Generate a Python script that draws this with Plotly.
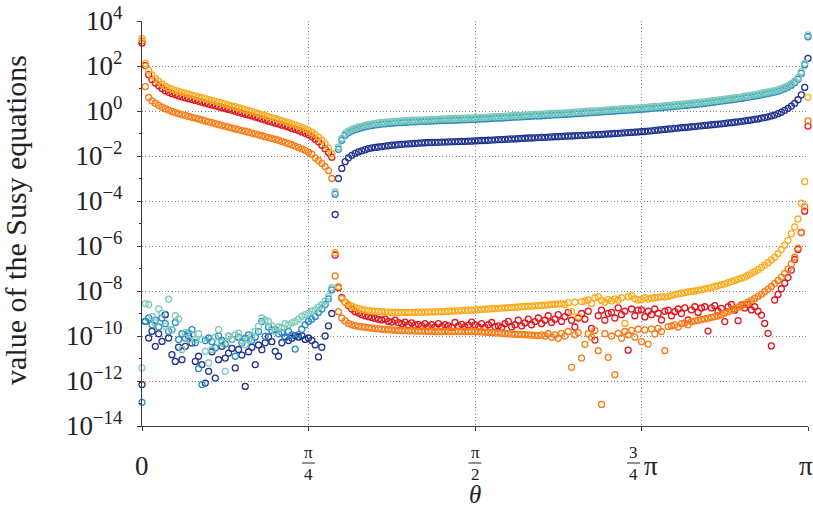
import numpy as np
import plotly.graph_objects as go

# sampling grid: 201 angles from 0 to pi
theta = np.linspace(0, np.pi, 201)

# log10 of the values of the Susy equations (index 0..200)
log10_dark_blue = [
    -12.16, -9.35, -10.09, -9.79, -10.46, -9.9, -10.24, -9.05, -10.09, -10.83,
    -11.13, -10.5, -11.05, -10.46, -10.0, -10.31, -11.13, -10.9, -11.27, -12.09,
    -11.57, -10.7, -11.87, -11.05, -10.46, -10.98, -10.76, -10.55, -11.42, -10.6,
    -10.85, -12.24, -10.7, -10.5, -11.27, -10.4, -10.61, -10.3, -10.04, -10.25,
    -10.68, -10.9, -10.3, -10.04, -10.2, -10.1, -9.99, -10.05, -9.99, -10.15,
    -10.09, -10.2, -10.39, -10.93, -10.5, -10.0, -9.55, -9.0, -4.6, -3.0,
    -2.55, -2.25, -2.08, -1.97, -1.88, -1.82, -1.77, -1.72, -1.67, -1.64,
    -1.62, -1.6, -1.58, -1.56, -1.54, -1.52, -1.51, -1.49, -1.48, -1.47,
    -1.46, -1.45, -1.44, -1.43, -1.42, -1.41, -1.4, -1.4, -1.39, -1.39,
    -1.38, -1.38, -1.37, -1.37, -1.36, -1.36, -1.35, -1.35, -1.34, -1.34,
    -1.33, -1.32, -1.31, -1.31, -1.3, -1.29, -1.28, -1.27, -1.27, -1.26,
    -1.25, -1.24, -1.24, -1.23, -1.22, -1.21, -1.2, -1.2, -1.19, -1.18,
    -1.17, -1.17, -1.16, -1.15, -1.14, -1.14, -1.13, -1.12, -1.11, -1.11,
    -1.1, -1.09, -1.08, -1.08, -1.07, -1.06, -1.05, -1.05, -1.04, -1.03,
    -1.02, -1.01, -1.0, -0.99, -0.98, -0.97, -0.96, -0.95, -0.94, -0.93,
    -0.92, -0.91, -0.89, -0.88, -0.86, -0.85, -0.83, -0.82, -0.8, -0.79,
    -0.77, -0.76, -0.74, -0.73, -0.72, -0.7, -0.69, -0.67, -0.66, -0.64,
    -0.63, -0.61, -0.6, -0.58, -0.57, -0.55, -0.53, -0.52, -0.5, -0.48,
    -0.46, -0.44, -0.42, -0.4, -0.37, -0.35, -0.32, -0.29, -0.26, -0.22,
    -0.18, -0.12, -0.05, 0.03, 0.12, 0.22, 0.34, 0.5, 0.72, 1.05,
    2.34,
]

log10_blue = [
    -12.95, -9.35, -9.2, -9.5, -9.3, -9.6, -9.2, -9.45, -9.79, -9.72,
    -9.4, -10.16, -9.9, -10.09, -9.87, -9.72, -10.3, -11.45, -12.16, -10.2,
    -10.09, -10.25, -10.53, -10.0, -10.2, -10.35, -10.01, -10.15, -10.9, -10.05,
    -10.31, -10.1, -9.95, -10.2, -10.05, -9.8, -9.35, -10.01, -9.6, -9.75,
    -9.72, -9.9, -9.85, -10.09, -9.8, -9.95, -10.58, -9.94, -9.7, -9.5,
    -9.35, -9.25, -9.13, -8.95, -8.8, -8.6, -8.35, -7.95, -3.7, -1.7,
    -1.3, -1.08, -0.97, -0.89, -0.83, -0.78, -0.74, -0.7, -0.67, -0.64,
    -0.62, -0.6, -0.58, -0.57, -0.55, -0.54, -0.53, -0.52, -0.51, -0.5,
    -0.49, -0.48, -0.48, -0.47, -0.46, -0.46, -0.45, -0.44, -0.44, -0.43,
    -0.42, -0.42, -0.41, -0.41, -0.4, -0.4, -0.39, -0.39, -0.38, -0.38,
    -0.37, -0.36, -0.35, -0.35, -0.34, -0.33, -0.32, -0.31, -0.31, -0.3,
    -0.29, -0.28, -0.27, -0.27, -0.26, -0.25, -0.24, -0.23, -0.22, -0.22,
    -0.21, -0.2, -0.19, -0.18, -0.17, -0.17, -0.16, -0.15, -0.14, -0.13,
    -0.12, -0.11, -0.1, -0.09, -0.08, -0.07, -0.06, -0.05, -0.04, -0.03,
    -0.02, -0.01, 0.0, 0.01, 0.02, 0.03, 0.04, 0.05, 0.06, 0.07,
    0.08, 0.09, 0.1, 0.12, 0.13, 0.14, 0.15, 0.17, 0.18, 0.19,
    0.21, 0.22, 0.23, 0.25, 0.26, 0.28, 0.29, 0.31, 0.32, 0.34,
    0.36, 0.38, 0.4, 0.42, 0.44, 0.46, 0.48, 0.5, 0.52, 0.54,
    0.56, 0.59, 0.61, 0.64, 0.66, 0.69, 0.72, 0.75, 0.78, 0.81,
    0.84, 0.88, 0.93, 0.99, 1.06, 1.15, 1.26, 1.41, 1.67, 2.05,
    3.3,
]

log10_teal = [
    -11.42, -8.56, -8.6, -9.13, -9.42, -8.8, -8.98, -9.57, -8.36, -9.72,
    -9.1, -9.24, -10.6, -9.85, -10.16, -9.95, -10.16, -9.9, -10.16, -10.68,
    -11.2, -10.6, -10.05, -9.72, -10.3, -11.57, -10.0, -10.16, -9.95, -9.87,
    -10.2, -10.39, -10.16, -10.0, -9.8, -9.57, -9.2, -9.3, -9.35, -9.55,
    -9.79, -9.6, -9.64, -9.45, -9.5, -9.42, -9.35, -9.25, -9.13, -9.05,
    -8.98, -8.9, -8.83, -8.72, -8.61, -8.45, -8.24, -7.85, -3.6, -1.6,
    -1.22, -1.0, -0.9, -0.82, -0.76, -0.71, -0.67, -0.63, -0.6, -0.57,
    -0.55, -0.53, -0.51, -0.5, -0.48, -0.47, -0.46, -0.45, -0.44, -0.43,
    -0.42, -0.41, -0.41, -0.4, -0.39, -0.39, -0.38, -0.37, -0.37, -0.36,
    -0.35, -0.35, -0.34, -0.34, -0.33, -0.33, -0.32, -0.32, -0.31, -0.31,
    -0.3, -0.29, -0.28, -0.28, -0.27, -0.26, -0.25, -0.24, -0.24, -0.23,
    -0.22, -0.21, -0.2, -0.2, -0.19, -0.18, -0.17, -0.16, -0.15, -0.15,
    -0.14, -0.13, -0.12, -0.11, -0.1, -0.1, -0.09, -0.08, -0.07, -0.06,
    -0.05, -0.04, -0.03, -0.02, -0.01, 0.0, 0.01, 0.02, 0.03, 0.04,
    0.05, 0.06, 0.07, 0.08, 0.09, 0.1, 0.11, 0.12, 0.13, 0.14,
    0.15, 0.16, 0.17, 0.19, 0.2, 0.21, 0.22, 0.24, 0.25, 0.26,
    0.28, 0.29, 0.3, 0.32, 0.33, 0.35, 0.36, 0.38, 0.39, 0.41,
    0.43, 0.45, 0.47, 0.49, 0.51, 0.53, 0.55, 0.57, 0.59, 0.61,
    0.63, 0.66, 0.68, 0.71, 0.73, 0.76, 0.79, 0.82, 0.85, 0.88,
    0.91, 0.95, 1.0, 1.06, 1.13, 1.22, 1.33, 1.48, 1.75, 2.12,
    3.38,
]

log10_red = [
    3.02, 2.02, 1.62, 1.4, 1.24, 1.12, 1.0, 0.9, 0.83, 0.77,
    0.72, 0.67, 0.63, 0.59, 0.55, 0.51, 0.47, 0.43, 0.39, 0.35,
    0.31, 0.27, 0.23, 0.19, 0.15, 0.11, 0.07, 0.03, -0.01, -0.05,
    -0.1, -0.14, -0.18, -0.22, -0.27, -0.31, -0.36, -0.4, -0.45, -0.49,
    -0.54, -0.58, -0.63, -0.67, -0.72, -0.77, -0.82, -0.87, -0.93, -0.99,
    -1.06, -1.14, -1.25, -1.37, -1.52, -1.68, -1.84, -2.05, -6.4, -7.85,
    -8.3, -8.5, -8.65, -8.8, -8.92, -8.98, -9.05, -9.1, -9.14, -9.18,
    -9.22, -9.26, -9.29, -9.25, -9.35, -9.38, -9.3, -9.41, -9.45, -9.38,
    -9.5, -9.42, -9.51, -9.48, -9.55, -9.45, -9.58, -9.5, -9.6, -9.45,
    -9.59, -9.5, -9.55, -9.62, -9.4, -9.55, -9.48, -9.6, -9.52, -9.38,
    -9.51, -9.6, -9.45, -9.62, -9.5, -9.4, -9.58, -9.55, -9.62, -9.45,
    -9.35, -9.6, -9.5, -9.3, -9.55, -9.42, -9.25, -9.5, -9.36, -9.2,
    -9.45, -9.3, -9.1, -9.4, -9.25, -9.05, -9.35, -9.14, -8.95, -9.3,
    -9.6, -9.2, -9.0, -9.25, -8.9, -9.66, -10.18, -9.1, -8.85, -9.3,
    -9.0, -8.95, -9.2, -8.75, -9.05, -8.9, -10.63, -8.8, -9.1, -8.85,
    -8.84, -9.15, -8.9, -9.05, -8.8, -8.99, -9.29, -8.9, -8.85, -9.1,
    -8.92, -8.8, -9.0, -8.75, -9.29, -8.84, -8.7, -8.95, -8.75, -8.7,
    -9.78, -8.75, -8.65, -8.9, -8.77, -9.36, -8.7, -8.6, -8.85, -9.32,
    -8.62, -8.75, -8.6, -8.84, -8.7, -8.9, -9.07, -9.44, -9.88, -10.44,
    -8.4, -8.15, -7.9, -7.65, -7.4, -7.07, -6.6, -6.15, -5.4, -4.45,
    -0.67,
]

log10_orange = [
    3.12, 1.08, 0.6, 0.45, 0.35, 0.26, 0.17, 0.1, 0.04, -0.02,
    -0.07, -0.12, -0.16, -0.2, -0.24, -0.28, -0.32, -0.36, -0.4, -0.44,
    -0.48, -0.52, -0.56, -0.6, -0.64, -0.68, -0.72, -0.76, -0.8, -0.83,
    -0.87, -0.9, -0.94, -0.98, -1.02, -1.06, -1.1, -1.14, -1.18, -1.22,
    -1.26, -1.3, -1.35, -1.4, -1.45, -1.5, -1.56, -1.62, -1.68, -1.75,
    -1.83, -1.92, -2.08, -2.2, -2.33, -2.47, -2.65, -3.0, -7.33, -8.92,
    -9.2, -9.33, -9.44, -9.5, -9.54, -9.57, -9.59, -9.61, -9.63, -9.65,
    -9.67, -9.68, -9.7, -9.71, -9.72, -9.73, -9.74, -9.75, -9.76, -9.76,
    -9.77, -9.77, -9.78, -9.78, -9.78, -9.79, -9.79, -9.79, -9.8, -9.8,
    -9.8, -9.8, -9.8, -9.8, -9.8, -9.8, -9.8, -9.8, -9.8, -9.8,
    -9.8, -9.81, -9.82, -9.83, -9.84, -9.85, -9.86, -9.87, -9.88, -9.89,
    -9.9, -9.91, -9.92, -9.93, -9.93, -9.94, -9.95, -9.96, -9.97, -9.98,
    -9.95, -10.0, -9.9, -10.05, -9.95, -10.1, -9.88, -10.0, -9.8, -11.39,
    -9.95, -9.85, -10.98, -10.37, -9.9, -10.05, -9.75, -10.65, -13.04, -9.9,
    -10.95, -10.0, -11.72, -9.88, -10.1, -9.8, -9.95, -9.75, -10.05, -9.7,
    -10.25, -9.73, -10.36, -9.68, -9.9, -9.66, -9.8, -10.65, -9.58, -9.55,
    -9.51, -9.6, -9.45, -9.42, -9.5, -9.36, -9.33, -9.3, -9.27, -9.24,
    -9.21, -9.17, -9.14, -9.1, -9.05, -8.98, -8.92, -8.85, -8.78, -8.72,
    -8.65, -8.58, -8.5, -8.42, -8.33, -8.24, -8.14, -8.03, -7.92, -7.8,
    -7.67, -7.53, -7.38, -7.22, -7.03, -6.8, -6.5, -6.1, -5.4, -4.25,
    -0.44,
]

log10_yellow = [
    3.23, 2.12, 1.82, 1.6, 1.44, 1.32, 1.2, 1.1, 1.03, 0.97,
    0.92, 0.87, 0.83, 0.79, 0.75, 0.71, 0.67, 0.63, 0.59, 0.55,
    0.51, 0.47, 0.43, 0.39, 0.35, 0.31, 0.27, 0.23, 0.19, 0.15,
    0.1, 0.06, 0.02, -0.02, -0.07, -0.11, -0.16, -0.2, -0.25, -0.29,
    -0.34, -0.38, -0.43, -0.47, -0.52, -0.57, -0.62, -0.67, -0.73, -0.79,
    -0.86, -0.94, -1.04, -1.16, -1.3, -1.46, -1.64, -1.9, -6.3, -7.8,
    -8.35, -8.5, -8.6, -8.67, -8.73, -8.78, -8.82, -8.85, -8.87, -8.89,
    -8.9, -8.91, -8.92, -8.93, -8.94, -8.94, -8.95, -8.95, -8.95, -8.95,
    -8.95, -8.95, -8.95, -8.94, -8.94, -8.94, -8.93, -8.93, -8.93, -8.92,
    -8.92, -8.91, -8.9, -8.9, -8.89, -8.88, -8.87, -8.86, -8.85, -8.85,
    -8.84, -8.83, -8.82, -8.81, -8.8, -8.79, -8.78, -8.77, -8.76, -8.75,
    -8.74, -8.73, -8.72, -8.71, -8.7, -8.69, -8.68, -8.67, -8.66, -8.65,
    -8.64, -8.63, -8.62, -8.6, -8.59, -8.58, -8.56, -8.6, -8.52, -8.92,
    -8.5, -9.14, -8.47, -8.45, -8.4, -8.55, -8.3, -8.25, -8.42, -8.5,
    -8.38, -8.44, -8.35, -8.4, -8.3, -9.44, -8.25, -8.2, -8.35, -8.4,
    -8.38, -8.3, -8.36, -8.32, -8.3, -8.28, -8.25, -8.27, -8.24, -8.2,
    -8.16, -8.13, -8.1, -8.07, -8.04, -8.02, -8.0, -7.97, -7.94, -7.91,
    -7.88, -7.84, -7.8, -7.76, -7.72, -7.68, -7.63, -7.58, -7.53, -7.48,
    -7.43, -7.38, -7.3, -7.22, -7.14, -7.05, -6.95, -6.85, -6.74, -6.62,
    -6.5, -6.34, -6.16, -5.96, -5.75, -5.45, -5.15, -4.8, -4.1, -3.14,
    0.61,
]

series_names = ["dark blue", "blue", "teal", "red", "orange", "yellow"]
series_colors = ["#1f338f", "#2a8cc4", "#7dcbba", "#e3161d", "#fa7b14", "#fcaa1c"]
series_logs = [log10_dark_blue, log10_blue, log10_teal, log10_red, log10_orange, log10_yellow]

y_tick_exponents = [4, 2, 0, -2, -4, -6, -8, -10, -12, -14]
y_minor_exponents = [3, 1, -1, -3, -5, -7, -9, -11, -13]
x_tick_values = [0, np.pi / 4, np.pi / 2, 3 * np.pi / 4, np.pi]

FONT = "Liberation Serif"
AXIS_COLOR = "#3a3a3a"
GRID_COLOR = "#808080"
GRID_DASH = "1px,2.3px"
TEXT_COLOR = "#222222"

fig = go.Figure()
for name, color, logs in zip(series_names, series_colors, series_logs):
    fig.add_trace(go.Scatter(
        x=theta,
        y=np.power(10.0, np.array(logs)),
        mode="markers",
        name=name,
        marker=dict(symbol="circle-open", size=6, color=color, line=dict(width=1.3, color=color)),
        cliponaxis=False,
        showlegend=False,
    ))

def sup_label(e):
    s = str(e).replace("-", "\u2212")
    return "10<sup>" + s + "</sup>"

fig.update_layout(
    width=813, height=506,
    margin=dict(l=142, r=5, t=21, b=80, autoexpand=False),
    paper_bgcolor="white", plot_bgcolor="white",
    font=dict(family=FONT, size=27, color=TEXT_COLOR),
    showlegend=False,
)

fig.update_xaxes(
    range=[0, np.pi], tickvals=x_tick_values, showticklabels=False,
    showgrid=True, gridcolor=GRID_COLOR, griddash=GRID_DASH, gridwidth=1,
    showline=True, linecolor=AXIS_COLOR, linewidth=1.2,
    ticks="outside", ticklen=4, tickcolor=AXIS_COLOR, zeroline=False,
    automargin=False,
)
fig.update_yaxes(
    type="log", range=[-14, 4],
    tickvals=[10.0 ** e for e in y_tick_exponents],
    ticktext=[sup_label(e) for e in y_tick_exponents],
    tickfont=dict(family=FONT, size=27, color=TEXT_COLOR),
    ticklabelstandoff=9,
    showgrid=True, gridcolor=GRID_COLOR, griddash=GRID_DASH, gridwidth=1,
    showline=True, linecolor=AXIS_COLOR, linewidth=1.2,
    ticks="outside", ticklen=4, tickcolor=AXIS_COLOR, zeroline=False,
    minor=dict(tickvals=[10.0 ** e for e in y_minor_exponents], ticks="outside",
               ticklen=2, tickcolor=AXIS_COLOR, showgrid=False),
    automargin=False,
)

frac_font = dict(family=FONT, size=17, color=TEXT_COLOR)
main_font = dict(family=FONT, size=27, color=TEXT_COLOR)

def label(x, text, font, yshift, xshift=0, pad=1):
    return dict(x=x, y=0, xref="x", yref="paper", text=text, showarrow=False, font=font,
                xanchor="center", yanchor="middle", yshift=yshift, xshift=xshift, borderpad=pad)

# fractions: numerator / denominator as real text, bar as a thin line
fractions = [(np.pi / 4, "\u03c0", "4", 0), (np.pi / 2, "\u03c0", "2", 0), (3 * np.pi / 4, "3", "4", -8)]
ann = [label(0, "0", main_font, -40)]
shapes = []
px_per_rad = 666 / np.pi
for xv, num, den, dx in fractions:
    ann.append(label(xv, num, frac_font, -26, dx, 0))
    ann.append(label(xv, den, frac_font, -48, dx, 0))
    xc = xv + dx / px_per_rad
    half = 6.5 / px_per_rad
    shapes.append(dict(type="line", xref="x", yref="paper", x0=xc - half, x1=xc + half,
                       y0=-37 / 405, y1=-37 / 405, line=dict(color=TEXT_COLOR, width=1)))
ann.append(label(3 * np.pi / 4, "\u03c0", main_font, -40, 9))
ann.append(label(np.pi, "\u03c0", main_font, -40, -2))
ann.append(label(np.pi / 2, "<i>\u03b8</i>", dict(family=FONT, size=25, color=TEXT_COLOR), -68, 0, 0))
ann.append(dict(x=-0.19, y=0.51, xref="paper", yref="paper", text="value of the Susy equations",
                showarrow=False, textangle=-90, font=dict(family=FONT, size=30, color=TEXT_COLOR),
                xanchor="center", yanchor="middle"))
fig.update_layout(annotations=ann, shapes=shapes)

fig.write_html(
    "out.html",
    config={"displayModeBar": False},
    post_script="document.body.style.margin='0';document.body.style.padding='0';document.body.style.overflow='hidden';",
)
